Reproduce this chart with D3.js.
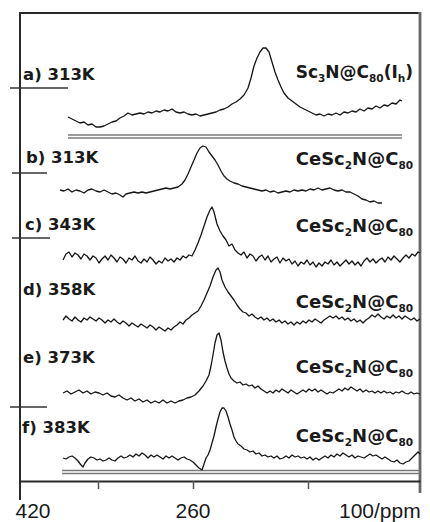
<!DOCTYPE html>
<html>
<head>
<meta charset="utf-8">
<script src="https://cdn.jsdelivr.net/npm/d3@7"></script>
<style>
  html, body { margin: 0; padding: 0; background: #fff; }
  svg { display: block; }
  .lbl { font-family: "DejaVu Sans", sans-serif; font-weight: bold; fill: #1a1a1a; }
  .tick-lbl { font-family: "Liberation Sans", Arial, sans-serif; font-size: 21px; fill: #1a1a1a; }
</style>
</head>
<body>
<svg id="chart" width="430" height="522"></svg>
<script>
// 45Sc NMR spectra: chemical shift (ppm) vs. relative intensity
const spectrumA = [[385,13],[381,11],[377,9],[373,7],[369,8],[365,5],[361,6],[357,3],[353,3],[349,4],[345,6],[341,8],[337,9],[333,12],[329,14],[325,17],[321,15],[317,16],[313,17],[309,16],[305,18],[301,17],[297,19],[293,18],[289,20],[285,19],[281,21],[277,18],[273,17],[269,18],[265,16],[261,15],[257,16],[253,14],[249,15],[245,16],[241,17],[237,18],[233,20],[229,21],[225,23],[221,26],[217,28],[213,31],[209,35],[205,42],[202,52],[199,64],[196,72],[193,78],[190,82],[187,82],[184,78],[181,68],[178,58],[175,50],[172,43],[169,37],[165,32],[161,29],[157,26],[153,23],[149,21],[145,19],[141,17],[137,15],[133,16],[129,14],[125,16],[121,15],[117,17],[113,15],[109,18],[105,17],[101,19],[97,18],[93,21],[89,19],[85,22],[81,21],[77,24],[73,22],[69,25],[65,24],[61,27],[57,26],[53,30],[51,29]];

const spectrumB = [[393,15],[389,14],[385,16],[381,13],[377,15],[373,14],[369,12],[365,15],[361,16],[357,14],[353,13],[349,15],[345,13],[341,11],[337,12],[333,10],[330,8],[327,11],[323,12],[319,13],[315,12],[311,13],[307,12],[303,13],[299,14],[295,15],[291,16],[287,17],[283,16],[279,17],[275,18],[271,21],[268,25],[265,31],[262,38],[259,45],[256,52],[253,57],[250,59],[247,58],[244,53],[241,49],[238,45],[235,40],[232,34],[229,29],[226,26],[223,24],[219,22],[215,21],[211,19],[207,18],[203,17],[199,16],[195,15],[191,14],[187,15],[183,13],[179,14],[175,12],[171,13],[167,14],[163,13],[159,15],[155,14],[151,15],[147,14],[143,16],[139,15],[135,17],[131,15],[127,16],[123,17],[119,15],[115,14],[111,15],[107,13],[103,13],[99,11],[95,9],[91,6],[87,5],[83,3],[79,4],[75,2],[71,2]];

const spectrumC = [[390,10],[387,16],[384,18],[381,13],[378,17],[375,15],[372,11],[369,16],[366,14],[363,10],[360,14],[357,12],[354,7],[351,11],[348,14],[345,10],[342,15],[339,12],[336,8],[333,13],[330,11],[327,7],[324,12],[321,10],[318,14],[315,9],[312,7],[309,11],[306,8],[303,13],[300,10],[297,6],[294,9],[291,7],[288,12],[285,9],[282,11],[279,8],[276,12],[273,10],[270,14],[267,12],[264,15],[261,14],[258,20],[255,27],[252,35],[249,44],[246,53],[243,60],[241,63],[239,58],[236,46],[233,39],[230,34],[227,30],[224,24],[221,26],[218,20],[215,17],[212,15],[209,18],[206,12],[203,16],[200,14],[197,9],[194,13],[191,15],[188,10],[185,14],[182,8],[179,11],[176,13],[173,7],[170,12],[167,9],[164,11],[161,6],[158,9],[155,4],[152,8],[149,6],[146,10],[143,5],[140,8],[137,3],[134,7],[131,4],[128,8],[125,6],[122,10],[119,5],[116,8],[113,4],[110,7],[107,10],[104,6],[101,9],[98,5],[95,8],[92,4],[89,9],[86,12],[83,8],[80,11],[77,7],[74,10],[71,12],[68,8],[65,13],[62,10],[59,14],[56,11],[53,8],[50,12],[47,15],[44,12],[41,16],[38,14],[35,18],[33,17]];

const spectrumD = [[390,12],[387,16],[384,13],[381,11],[378,15],[375,12],[372,10],[369,14],[366,12],[363,15],[360,13],[357,11],[354,14],[351,12],[348,9],[345,12],[342,10],[339,13],[336,10],[333,8],[330,11],[327,9],[324,6],[321,9],[318,7],[315,5],[312,8],[309,6],[306,4],[303,7],[300,5],[297,2],[294,5],[291,3],[288,1],[285,4],[282,2],[279,5],[276,7],[273,10],[270,8],[267,12],[264,14],[261,17],[258,19],[255,21],[252,26],[249,32],[246,39],[243,46],[240,55],[237,62],[235,64],[233,60],[231,52],[228,45],[225,40],[222,36],[219,32],[216,27],[213,23],[210,20],[207,19],[204,16],[201,18],[198,15],[195,13],[192,15],[189,12],[186,14],[183,11],[180,13],[177,10],[174,12],[171,9],[168,11],[165,8],[162,10],[159,7],[156,10],[153,8],[150,11],[147,9],[144,12],[141,10],[138,13],[135,11],[132,9],[129,12],[126,14],[123,16],[120,14],[117,16],[114,13],[111,15],[108,12],[105,14],[102,11],[99,13],[96,10],[93,12],[90,9],[87,12],[84,14],[81,17],[78,15],[75,18],[72,15],[69,13],[66,16],[63,14],[60,17],[57,14],[54,16],[51,13],[48,16],[45,14],[42,12],[39,14],[36,11],[33,13]];

const spectrumE = [[390,12],[386,14],[382,11],[378,13],[374,15],[370,12],[366,14],[362,11],[358,13],[354,12],[350,10],[346,12],[342,9],[338,8],[334,10],[330,7],[326,5],[322,7],[318,4],[314,6],[310,3],[306,5],[302,2],[298,4],[294,2],[290,5],[286,2],[282,4],[278,2],[274,4],[270,5],[266,7],[262,8],[258,10],[254,14],[250,19],[247,24],[244,30],[242,39],[240,50],[238,62],[236,70],[234,72],[232,65],[230,53],[228,44],[226,37],[224,31],[222,27],[219,24],[216,22],[213,23],[210,20],[207,21],[204,19],[201,20],[198,17],[195,19],[192,16],[189,14],[186,12],[183,14],[180,12],[177,15],[174,13],[171,16],[168,14],[165,12],[162,15],[159,13],[156,11],[153,13],[150,15],[147,13],[144,16],[141,14],[138,16],[135,13],[132,15],[129,13],[126,11],[123,13],[120,12],[117,14],[114,16],[111,14],[108,17],[105,15],[102,18],[99,16],[96,14],[93,16],[90,13],[87,15],[84,13],[81,14],[78,12],[75,14],[72,12],[69,14],[66,12],[63,13],[60,11],[57,13],[54,12],[51,14],[48,12],[45,11],[42,13],[39,11],[36,12],[33,11]];

const spectrumF = [[390,12],[387,11],[384,13],[381,14],[378,12],[375,9],[372,5],[370,3],[368,7],[365,11],[362,13],[359,12],[356,10],[353,11],[350,9],[347,10],[344,12],[341,10],[338,9],[335,12],[332,14],[329,12],[326,13],[323,15],[320,13],[317,16],[314,14],[311,17],[308,15],[305,12],[302,15],[299,13],[296,15],[293,13],[290,11],[287,14],[284,12],[281,14],[278,12],[275,10],[272,12],[269,13],[266,11],[263,10],[260,8],[257,5],[254,2],[251,0],[249,6],[247,12],[245,15],[243,20],[241,27],[239,34],[237,43],[235,51],[233,58],[231,62],[229,62],[227,59],[225,53],[223,46],[221,40],[219,33],[217,29],[215,26],[212,24],[209,21],[206,20],[203,18],[200,19],[197,16],[194,17],[191,14],[188,15],[185,13],[182,14],[179,12],[176,14],[173,11],[170,12],[167,14],[164,12],[161,15],[158,13],[155,14],[152,12],[149,13],[146,11],[143,13],[140,10],[137,12],[134,10],[131,12],[128,14],[125,12],[122,15],[119,13],[116,16],[113,14],[110,17],[107,15],[104,13],[101,15],[98,12],[95,14],[92,13],[89,12],[86,14],[83,16],[80,14],[77,15],[74,13],[71,11],[68,13],[65,11],[62,9],[59,8],[56,10],[53,7],[50,6],[47,8],[44,9],[41,12],[38,15],[35,18],[33,16]];

const spectra = [spectrumA, spectrumB, spectrumC, spectrumD, spectrumE, spectrumF];
const tempLabels = ["a) 313K", "b) 313K", "c) 343K", "d) 358K", "e) 373K", "f) 383K"];
// compound names: [main, subscript] runs
const compounds = [
  [["Sc",""],["3","sub"],["N@C",""],["80","sub"],["(I",""],["h","sub"],[")",""]],
  [["CeSc",""],["2","sub"],["N@C",""],["80","sub"]],
  [["CeSc",""],["2","sub"],["N@C",""],["80","sub"]],
  [["CeSc",""],["2","sub"],["N@C",""],["80","sub"]],
  [["CeSc",""],["2","sub"],["N@C",""],["80","sub"]],
  [["CeSc",""],["2","sub"],["N@C",""],["80","sub"]]
];
const axisTicks = [355, 260, 145];
const axisLabels = ["420", "260", "100/ppm"];
const axisLabelValues = [420, 260, 100];

// ---- layout ----
const svg = d3.select("#chart");
const frame = { left: 20, right: 420, top: 13, axisY: 481 };
const x = d3.scaleLinear().domain([433, 33]).range([frame.left, frame.right]);

// baseline (pixel) of each stacked spectrum and label baselines
const panelBase = [130, 205, 270, 332, 405, 470];
const tempY = [80, 163, 230, 295, 363, 433];
const compY = [78, 165, 232, 308, 373, 442];
const tempX = [23, 26, 25, 23, 23, 22];

const frameG = svg.append("g");
// frame: top & left dark, right grey heavy
frameG.append("line").attr("x1", frame.left).attr("x2", frame.right).attr("y1", frame.top).attr("y2", frame.top)
  .attr("stroke", "#2a2a2a").attr("stroke-width", 2);
frameG.append("line").attr("x1", frame.left).attr("x2", frame.left).attr("y1", frame.top - 1).attr("y2", 500)
  .attr("stroke", "#2a2a2a").attr("stroke-width", 2);
frameG.append("line").attr("x1", frame.right).attr("x2", frame.right).attr("y1", frame.top - 1).attr("y2", 493)
  .attr("stroke", "#8a8a8a").attr("stroke-width", 3);
frameG.append("line").attr("x1", frame.right).attr("x2", frame.right).attr("y1", frame.top - 1).attr("y2", 493)
  .attr("stroke", "#444").attr("stroke-width", 1);

// bottom axis
const axis = d3.axisBottom(x).tickValues(axisTicks).tickFormat("").tickSizeOuter(0).tickSizeInner(8);
const axG = svg.append("g").attr("transform", `translate(0,${frame.axisY})`).call(axis);
axG.select(".domain").attr("stroke", "#2a2a2a").attr("stroke-width", 2);
axG.selectAll(".tick line").attr("stroke", "#555").attr("stroke-width", 1.5);

svg.append("g").selectAll("text").data(axisLabelValues).join("text")
  .attr("class", "tick-lbl")
  .attr("x", (d, i) => i === 2 ? x(d) - 14 : x(d))
  .attr("y", 518)
  .attr("text-anchor", (d, i) => i === 2 ? "start" : "middle")
  .text((d, i) => axisLabels[i]);

// grey double reference lines under the first and last spectra
function doubleLine(x1, x2, y) {
  [y, y + 3].forEach(yy => svg.append("line").attr("x1", x1).attr("x2", x2).attr("y1", yy).attr("y2", yy)
    .attr("stroke", "#7a7a7a").attr("stroke-width", 1.3));
}
doubleLine(x(385), x(51), 135);
doubleLine(x(391), frame.right, 470.5);

// short level markers at the left edge
[[10, 68, 88], [12, 47, 173], [12, 50, 238], [10, 47, 407]].forEach(([a, b, y]) =>
  svg.append("line").attr("x1", a).attr("x2", b).attr("y1", y).attr("y2", y)
    .attr("stroke", "#333").attr("stroke-width", 1.6));

// spectra
const line = d3.line();
spectra.forEach((s, i) => {
  const y = d3.scaleLinear().domain([0, 100]).range([panelBase[i], panelBase[i] - 100]);
  svg.append("path")
    .attr("d", line.x(d => x(d[0])).y(d => y(d[1]))(s))
    .attr("fill", "none").attr("stroke", "#151515").attr("stroke-width", 1.3)
    .attr("stroke-linejoin", "round");
});

// temperature labels
svg.append("g").selectAll("text").data(tempLabels).join("text")
  .attr("class", "lbl").attr("font-size", 16.5)
  .attr("x", (d, i) => tempX[i]).attr("y", (d, i) => tempY[i])
  .text(d => d);

// compound labels with subscripts
compounds.forEach((runs, i) => {
  const t = svg.append("text").attr("class", "lbl").attr("font-size", i === 0 ? 17 : 18)
    .attr("x", 413).attr("y", compY[i]).attr("text-anchor", "end");
  runs.forEach(([txt, kind]) => {
    const ts = t.append("tspan").text(txt);
    if (kind === "sub") ts.attr("font-size", 10.5).attr("dy", 4);
    else ts.attr("dy", t.selectAll("tspan").size() > 1 ? -4 : 0);
  });
});
</script>
</body>
</html>
